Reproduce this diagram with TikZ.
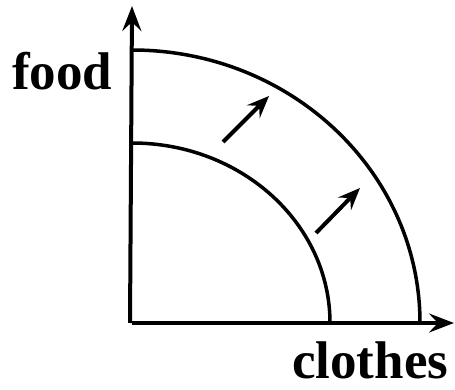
\documentclass[tikz,border=0pt]{standalone}
\usepackage{fontspec}
\setmainfont{Liberation Serif}
\usetikzlibrary{arrows.meta}
\begin{document}
\begin{tikzpicture}[x=1pt,y=-1pt,
    axis/.style={line width=4pt,-{Stealth[length=25pt,width=19pt,inset=9pt]}},
    growth/.style={line width=4pt,-{Stealth[length=22pt,width=18pt,inset=8pt]}},
    curve/.style={line width=3.5pt},
    lbl/.style={font=\fontsize{53}{53}\selectfont\bfseries,inner sep=0pt,anchor=base west}]
  \useasboundingbox (0,0) rectangle (455,390);
  \coordinate (O) at (132,323); %
  \coordinate (Y) at (132,6); %
  \coordinate (X) at (454,323); %
  \draw[axis] ([xshift=-2pt]O) -- (Y); %
  \draw[axis] (O) -- (X); %
  \draw[curve] (132,143) arc[x radius=198, y radius=180, start angle=-90, end angle=0]; %
  \draw[curve] (132,50) arc[x radius=288, y radius=273, start angle=-90, end angle=0]; %
  \coordinate (a1) at (223,142); %
  \coordinate (b1) at (269,96); %
  \coordinate (a2) at (316,233); %
  \coordinate (b2) at (360,188); %
  \draw[growth] (a1) -- (b1); %
  \draw[growth] (a2) -- (b2); %
  \node[lbl] (food) at (12,90) {food}; %
  \node[lbl] (clothes) at (292,378) {clothes}; %
\end{tikzpicture}
\end{document}
